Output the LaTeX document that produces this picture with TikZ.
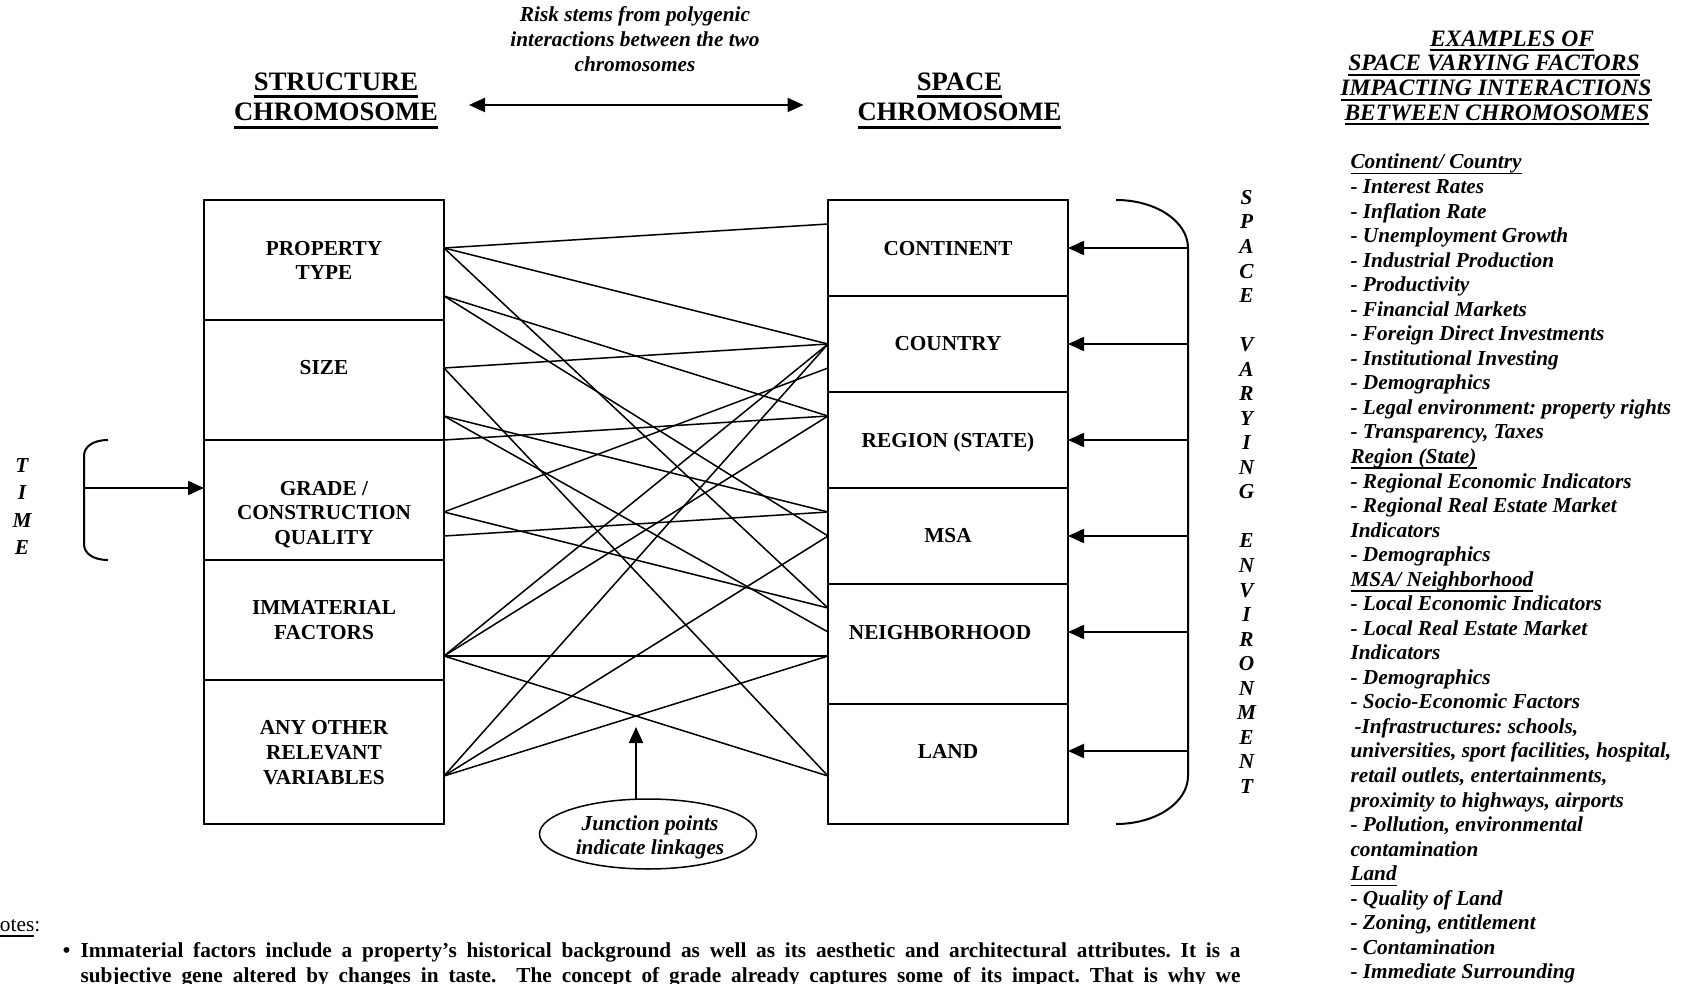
\documentclass[tikz,border=0pt]{standalone}
\usepackage{fontspec}
\setmainfont{Liberation Serif}
\usetikzlibrary{arrows.meta,shapes.geometric}
\frenchspacing
\newsavebox\ulbox
\newcommand\myul[3]{\sbox\ulbox{#3}\usebox\ulbox\llap{\rule[-#1]{\wd\ulbox}{#2}}}
\tikzset{
  every node/.style={inner sep=0pt, outer sep=0pt},
  box/.style={draw, line width=2pt, minimum width=240pt, inner sep=0pt},
  lbl/.style={font=\fontsize{21.3}{24.6}\selectfont\bfseries, align=center},
  bi/.style={font=\fontsize{21.3}{24.6}\selectfont\bfseries\itshape},
  bt/.style={font=\fontsize{21.3}{24.6}\selectfont\bfseries},
  rg/.style={font=\fontsize{21.3}{24.6}\selectfont},
  hd/.style={font=\fontsize{23.5}{24.7}\selectfont\bfseries\itshape},
  ttl/.style={font=\fontsize{26.6}{30}\selectfont\bfseries},
  conn/.style={line width=1.5pt},
  brk/.style={line width=2pt},
  arr/.style={line width=2pt, -{Triangle[length=16pt,width=14pt]}},
  darr/.style={line width=2pt, {Triangle[length=16pt,width=14pt]}-{Triangle[length=16pt,width=14pt]}},
}
\begin{document}
\begin{tikzpicture}[x=1pt,y=-1pt]
\useasboundingbox (0,0) rectangle (1682,984);
\clip (0,0) rectangle (1682,984);

% titles
\node[ttl, anchor=base] (st1) at (336,90.5) {\myul{8pt}{3pt}{STRUCTURE}};
\node[ttl, anchor=base] (st2) at (336,121) {\myul{8pt}{3pt}{CHROMOSOME}};
\node[ttl, anchor=base] (sp1) at (959.5,90.5) {\myul{8pt}{3pt}{SPACE}};
\node[ttl, anchor=base] (sp2) at (959.5,121) {\myul{8pt}{3pt}{CHROMOSOME}};

\node[bi, anchor=base] (risk1) at (635,22) {Risk stems from polygenic};
\node[bi, anchor=base] (risk2) at (635,46.7) {interactions between the two};
\node[bi, anchor=base] (risk3) at (635,71.4) {chromosomes};
\coordinate (da1) at (469,105);
\coordinate (da2) at (803.5,105);
\draw[darr] (da1) -- (da2);

% ports
\foreach \y in {248,296,368,416,440,512,536,656,776} \coordinate (L\y) at (444,\y);
\foreach \y in {224,344,368,416,512,536,608,632,656,776} \coordinate (R\y) at (828,\y);

% connectors
\foreach \a/\b in {L248/R224,L248/R344,L248/R608,L296/R416,L296/R536,L368/R344,L368/R776,
  L416/R512,L416/R632,L440/R416,L512/R368,L512/R608,L536/R512,
  L656/R344,L656/R416,L656/R656,L656/R776,L776/R344,L776/R536,L776/R656}
  \draw[conn] (\a) -- (\b);

% left boxes
\node[box, minimum height=120pt] (pt) at (324,260) {};
\node[box, minimum height=120pt] (sz) at (324,380) {};
\node[box, minimum height=120pt] (gr) at (324,500) {};
\node[box, minimum height=120pt] (im) at (324,620) {};
\node[box, minimum height=144pt] (ao) at (324,752) {};
\node[lbl] (ptl) at (324,260.4) {PROPERTY\\TYPE};
\node[lbl] (szl) at (324,368) {SIZE};
\node[lbl] (grl) at (324,514.5) {GRADE /\\CONSTRUCTION\\QUALITY};
\node[lbl] (iml) at (324,620) {IMMATERIAL\\FACTORS};
\node[lbl] (aol) at (324,752.6) {ANY OTHER\\RELEVANT\\VARIABLES};

% right boxes
\node[box, minimum height=96pt] (co) at (948,248) {};
\node[box, minimum height=96pt] (cy) at (948,344) {};
\node[box, minimum height=96pt] (rs) at (948,440) {};
\node[box, minimum height=96pt] (ms) at (948,536) {};
\node[box, minimum height=120pt] (nb) at (948,644) {};
\node[box, minimum height=120pt] (ld) at (948,764) {};
\node[lbl] (col) at (948,248.5) {CONTINENT};
\node[lbl] (cyl) at (948,344) {COUNTRY};
\node[lbl] (rsl) at (948,442.8) {REGION (STATE)};
\node[lbl] (msl) at (948,535.8) {MSA};
\node[lbl] (nbl) at (940,632.3) {NEIGHBORHOOD};
\node[lbl] (ldl) at (948,751.4) {LAND};

% right arrows and bracket
\foreach \y [count=\i] in {248,344,440,536,632,751} {
  \coordinate (ra\i) at (1188,\y);
  \coordinate (rb\i) at (1068,\y);
  \draw[arr] (ra\i) -- (rb\i);
}
\coordinate (brt) at (1116,200);
\coordinate (brb) at (1116,824);
\draw[brk] (brt) .. controls (1156,200) and (1188,221.5) .. (1188,248) -- (1188,776)
  .. controls (1188,802.5) and (1156,824) .. (brb);

\foreach \i/\c in {0/S,1/P,2/A,3/C,4/E,6/V,7/A,8/R,9/Y,10/I,11/N,12/G,14/E,15/N,16/V,17/I,18/R,19/O,20/N,21/M,22/E,23/N,24/T}
  \node[bi, anchor=base] (sv\i) at (1246.5,{204.4+24.54*\i}) {\c};

% time
\foreach \i/\c/\y in {1/T/465,2/I/492.5,3/M/520,4/E/547.5}
  \node[bi, anchor=base] (tm\i) at (22,{\y+7}) {\c};
\coordinate (tbt) at (108,440);
\coordinate (tbb) at (108,560);
\draw[brk] (tbt) .. controls (94,440) and (84,446) .. (84,456) -- (84,544)
  .. controls (84,554) and (94,560) .. (tbb);
\coordinate (ta) at (84,488);
\coordinate (tb) at (204,488);
\draw[arr] (ta) -- (tb);

% junction
\node[draw, ellipse, line width=1.5pt, minimum width=217pt, minimum height=70pt] (jp) at (648,834) {};
\node[bi, align=center] (jpt) at (650,837.2) {Junction points\\indicate linkages};
\coordinate (jpa) at (636,799.5);
\coordinate (jpb) at (636,727);
\draw[arr] (jpa) -- (jpb);

% header on the right
\node[hd, anchor=base] (h1) at (1512,46.3) {\myul{5pt}{2pt}{EXAMPLES OF}};
\node[hd, anchor=base] (h2) at (1494,71) {\myul{5pt}{2pt}{SPACE VARYING FACTORS}};
\node[hd, anchor=base] (h3) at (1496,95.7) {\myul{5pt}{2pt}{IMPACTING INTERACTIONS}};
\node[hd, anchor=base] (h4) at (1497,120.4) {\myul{5pt}{2pt}{BETWEEN CHROMOSOMES}};

\foreach \t [count=\i from 0] in {
  {\myul{5.5pt}{1.5pt}{Continent/ Country}},
  {- Interest Rates},
  {- Inflation Rate},
  {- Unemployment Growth},
  {- Industrial Production},
  {- Productivity},
  {- Financial Markets},
  {- Foreign Direct Investments},
  {- Institutional Investing},
  {- Demographics},
  {- Legal environment: property rights},
  {- Transparency, Taxes},
  {\myul{5.5pt}{1.5pt}{Region (State)}},
  {- Regional Economic Indicators},
  {- Regional Real Estate Market},
  {Indicators},
  {- Demographics},
  {\myul{5.5pt}{1.5pt}{MSA/ Neighborhood}},
  {- Local Economic Indicators},
  {- Local Real Estate Market},
  {Indicators},
  {- Demographics},
  {- Socio-Economic Factors},
  {\hspace*{4pt}-Infrastructures: schools,},
  {universities, sport facilities, hospital,},
  {retail outlets, entertainments,},
  {proximity to highways, airports},
  {- Pollution, environmental},
  {contamination},
  {\myul{5.5pt}{1.5pt}{Land}},
  {- Quality of Land},
  {- Zoning, entitlement},
  {- Contamination},
  {- Immediate Surrounding}}
  \node[bi, anchor=base west] (ex\i) at (1350.5,{169+24.54*\i}) {\t};

% notes
\node[rg, anchor=base west] (notes) at (-15.4,931.5) {\myul{5pt}{1.5pt}{Notes}:};
\node[bt, anchor=base] (bul) at (66.5,957.5) {\textbullet};
\node[bt, anchor=base west] (nt1) at (80.5,957.5) {\makebox[1160pt][s]{Immaterial factors include a property’s historical background as well as its aesthetic and architectural attributes. It is a}};
\node[bt, anchor=base west] (nt2) at (80.5,982) {\makebox[1160pt][s]{subjective gene altered by changes in taste.\ \ The concept of grade already captures some of its impact. That is why we}};
\end{tikzpicture}
\end{document}
